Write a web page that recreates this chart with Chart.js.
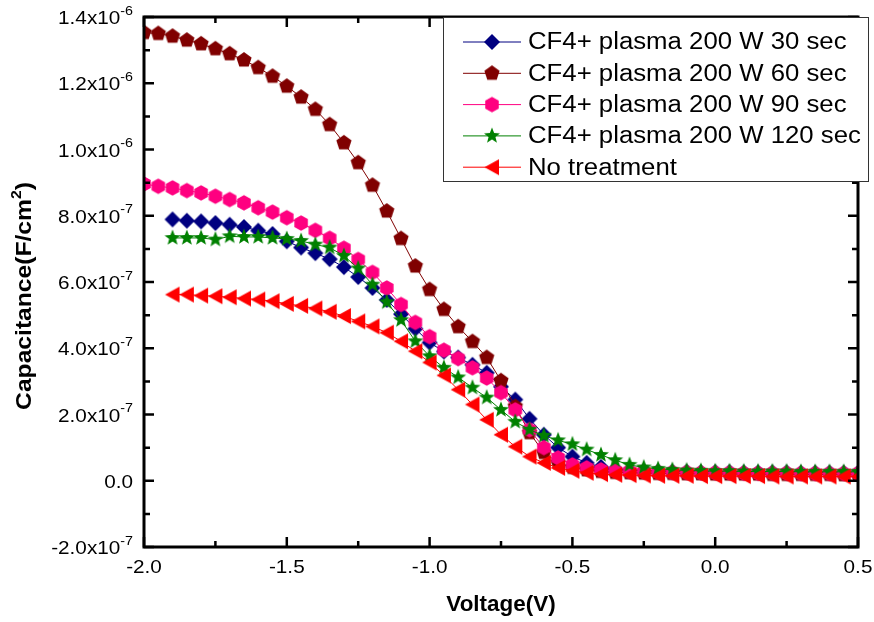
<!DOCTYPE html>
<html>
<head>
<meta charset="utf-8">
<script src="https://cdn.jsdelivr.net/npm/chart.js@4"></script>
<style>
  html, body { margin: 0; padding: 0; background: #fff; }
  #myChart { display: block; }
</style>
</head>
<body>
<canvas id="myChart" width="874" height="622"></canvas>
<script>
// voltage sweep (V)
const volts = [
  -2.00, -1.95, -1.90, -1.85, -1.80, -1.75, -1.70, -1.65, -1.60, -1.55,
  -1.50, -1.45, -1.40, -1.35, -1.30, -1.25, -1.20, -1.15, -1.10, -1.05,
  -1.00, -0.95, -0.90, -0.85, -0.80, -0.75, -0.70, -0.65, -0.60, -0.55,
  -0.50, -0.45, -0.40, -0.35, -0.30, -0.25, -0.20, -0.15, -0.10, -0.05,
  0.00, 0.05, 0.10, 0.15, 0.20, 0.25, 0.30, 0.35, 0.40, 0.45, 0.50
];

// capacitance in units of 1e-7 F/cm2; short series start at -1.90 V
const sec30 = [
  7.89, 7.85, 7.83, 7.78, 7.73, 7.66, 7.55, 7.45,
  7.23, 7.04, 6.87, 6.69, 6.45, 6.15, 5.82, 5.46, 5.03, 4.59,
  4.17, 3.90, 3.72, 3.50, 3.26, 2.84, 2.45, 1.87, 1.39, 1.00,
  0.73, 0.54, 0.42, 0.35, 0.31, 0.29,
  0.28, 0.27, 0.27, 0.26, 0.26, 0.26, 0.25, 0.25, 0.25, 0.25, 0.24, 0.24, 0.24, 0.24, 0.24
];
const sec60 = [
  13.53, 13.50, 13.42, 13.30, 13.19, 13.04, 12.89, 12.70, 12.47, 12.21,
  11.91, 11.58, 11.21, 10.75, 10.20, 9.60, 8.92, 8.14, 7.31, 6.48,
  5.77, 5.17, 4.65, 4.20, 3.72, 3.02, 2.24, 1.45, 0.85, 0.55,
  0.40, 0.33, 0.28, 0.25, 0.24,
  0.23, 0.22, 0.22, 0.21, 0.21, 0.20, 0.20, 0.20, 0.20, 0.19, 0.19, 0.19, 0.19, 0.19, 0.18, 0.18
];
const sec90 = [
  8.96, 8.89, 8.84, 8.76, 8.69, 8.59, 8.49, 8.39, 8.24, 8.11,
  7.94, 7.78, 7.56, 7.32, 7.02, 6.68, 6.29, 5.82, 5.32, 4.78,
  4.35, 3.94, 3.69, 3.41, 3.10, 2.66, 2.14, 1.54, 1.00, 0.69,
  0.48, 0.39, 0.33, 0.30, 0.28, 0.27,
  0.26, 0.25, 0.25, 0.24, 0.24, 0.24, 0.23, 0.23, 0.23, 0.23, 0.22, 0.22, 0.22, 0.22, 0.22
];
const sec120 = [
  7.33, 7.33, 7.33, 7.28, 7.38, 7.36, 7.36, 7.33,
  7.30, 7.24, 7.13, 7.04, 6.79, 6.41, 5.92, 5.39, 4.85, 4.21,
  3.76, 3.41, 3.12, 2.81, 2.51, 2.14, 1.78, 1.54, 1.36, 1.22,
  1.10, 0.94, 0.78, 0.62, 0.48, 0.40,
  0.36, 0.33, 0.31, 0.30, 0.29, 0.29, 0.28, 0.28, 0.28, 0.28, 0.27, 0.27, 0.27, 0.27, 0.27
];
const noTreat = [
  5.62, 5.62, 5.59, 5.57, 5.54, 5.50, 5.47, 5.42,
  5.34, 5.28, 5.20, 5.10, 4.97, 4.81, 4.66, 4.47, 4.21, 3.91,
  3.57, 3.18, 2.75, 2.30, 1.84, 1.39, 1.03, 0.73, 0.54, 0.39,
  0.30, 0.24, 0.20, 0.18, 0.17, 0.16,
  0.15, 0.15, 0.15, 0.14, 0.14, 0.14, 0.14, 0.14, 0.13, 0.13, 0.13, 0.13, 0.13, 0.13, 0.13
];

const seriesNames = [
  'CF4+ plasma 200 W 30 sec',
  'CF4+ plasma 200 W 60 sec',
  'CF4+ plasma 200 W 90 sec',
  'CF4+ plasma 200 W 120 sec',
  'No treatment'
];
const xTickLabels = ['-2.0', '-1.5', '-1.0', '-0.5', '0.0', '0.5'];
const yTickLabels = ['-2.0x10^-7', '0.0', '2.0x10^-7', '4.0x10^-7', '6.0x10^-7',
  '8.0x10^-7', '1.0x10^-6', '1.2x10^-6', '1.4x10^-6'];

const UNIT = 1e-7;
const FONT = "'Liberation Sans', Arial, sans-serif";
const colors = ['#000080', '#800000', '#ff0080', '#008000', '#ff0000'];
const shapes = ['diamond', 'pentagon', 'hexagon', 'star', 'triLeft'];

function makeMarker(shape, color) {
  const s = 20, c = document.createElement('canvas');
  c.width = s; c.height = s;
  const g = c.getContext('2d');
  g.fillStyle = color;
  g.translate(s / 2, s / 2);
  g.beginPath();
  const poly = (n, r, rot) => {
    for (let k = 0; k < n; k++) {
      const t = rot + k * 2 * Math.PI / n;
      g.lineTo(r * Math.cos(t), r * Math.sin(t));
    }
  };
  if (shape === 'diamond') poly(4, 8, -Math.PI / 2);
  else if (shape === 'pentagon') poly(5, 8, -Math.PI / 2);
  else if (shape === 'hexagon') poly(6, 7.8, -Math.PI / 2);
  else if (shape === 'star') {
    for (let k = 0; k < 10; k++) {
      const r = k % 2 ? 3.6 : 8.4;
      const t = -Math.PI / 2 + k * Math.PI / 5;
      g.lineTo(r * Math.cos(t), r * Math.sin(t));
    }
  } else {
    g.moveTo(-7.5, 0); g.lineTo(7, -8); g.lineTo(7, 8);
  }
  g.closePath();
  g.fill();
  return c;
}
const markers = shapes.map((s, i) => makeMarker(s, colors[i]));

function toPoints(vals) {
  const off = volts.length - vals.length;
  return vals.map((v, i) => ({x: volts[i + off], y: v * UNIT}));
}
const allSeries = [sec30, sec60, sec90, sec120, noTreat];

function drawText(ctx, str, x, y, font, align, sx) {
  ctx.save();
  ctx.font = font;
  ctx.textBaseline = 'middle';
  ctx.textAlign = align;
  ctx.fillStyle = '#000';
  ctx.translate(x, y);
  ctx.scale(sx, 1);
  ctx.fillText(str, 0, 0);
  ctx.restore();
}
function textWidth(ctx, str, font, sx) {
  ctx.save();
  ctx.font = font;
  const w = ctx.measureText(str).width * sx;
  ctx.restore();
  return w;
}

const framePlugin = {
  id: 'frame',
  afterDraw(chart) {
    const {ctx, chartArea: a, scales: {x, y}} = chart;
    ctx.save();
    ctx.strokeStyle = '#000';
    ctx.lineWidth = 3;
    ctx.strokeRect(a.left, a.top, a.right - a.left, a.bottom - a.top);

    // inward ticks on all four sides
    ctx.lineWidth = 2.5;
    const tickX = (px, len) => {
      ctx.beginPath();
      ctx.moveTo(px, a.bottom); ctx.lineTo(px, a.bottom - len);
      ctx.moveTo(px, a.top); ctx.lineTo(px, a.top + len);
      ctx.stroke();
    };
    const tickY = (py, len) => {
      ctx.beginPath();
      ctx.moveTo(a.left, py); ctx.lineTo(a.left + len, py);
      ctx.moveTo(a.right, py); ctx.lineTo(a.right - len, py);
      ctx.stroke();
    };
    const xVals = xTickLabels.map(Number);
    xVals.forEach((v, i) => {
      tickX(x.getPixelForValue(v), 10);
      if (i > 0) tickX(x.getPixelForValue((v + xVals[i - 1]) / 2), 6);
      drawText(ctx, xTickLabels[i], x.getPixelForValue(v), 568, '18.5px ' + FONT, 'center', 1.12);
    });

    const yVals = yTickLabels.map(l => {
      const p = l.split('^');
      return p.length > 1 ? parseFloat(p[0]) * Math.pow(10, Number(p[1])) : parseFloat(p[0]);
    });
    yVals.forEach((v, i) => {
      const py = y.getPixelForValue(v);
      tickY(py, 10);
      if (i > 0) tickY(y.getPixelForValue((v + yVals[i - 1]) / 2), 6);
      const p = yTickLabels[i].split('^');
      let right = 133;
      if (p.length > 1) {
        const ef = '13px ' + FONT;
        const ew = textWidth(ctx, p[1], ef, 1.1);
        drawText(ctx, p[1], right - ew, py - 6, ef, 'left', 1.1);
        right -= ew;
      }
      drawText(ctx, p[0], right, py + 2, '18.5px ' + FONT, 'right', 1.12);
    });

    // axis titles
    drawText(ctx, 'Voltage(V)', (a.left + a.right) / 2, 605, 'bold 22px ' + FONT, 'center', 1.02);
    ctx.save();
    ctx.translate(25, 296);
    ctx.rotate(-Math.PI / 2);
    const tf = 'bold 22px ' + FONT, sf = 'bold 14px ' + FONT;
    const parts = [['Capacitance(F/cm', tf, 0], ['2', sf, -8], [')', tf, 0]];
    const widths = parts.map(p => textWidth(ctx, p[0], p[1], 1.12));
    let tx = -widths.reduce((s, w) => s + w, 0) / 2;
    parts.forEach((p, k) => {
      drawText(ctx, p[0], tx, p[2], p[1], 'left', 1.12);
      tx += widths[k];
    });
    ctx.restore();

    // legend box
    ctx.fillStyle = '#fff';
    ctx.fillRect(443, 17, 426, 165);
    ctx.lineWidth = 1;
    ctx.strokeStyle = '#333';
    ctx.strokeRect(443.5, 17.5, 425, 164);
    seriesNames.forEach((name, i) => {
      const ly = 42 + i * 31.3;
      ctx.strokeStyle = colors[i];
      ctx.lineWidth = 1;
      ctx.beginPath();
      ctx.moveTo(463, ly); ctx.lineTo(521, ly);
      ctx.stroke();
      const m = markers[i];
      ctx.drawImage(m, 492 - m.width / 2, ly - m.height / 2);
      drawText(ctx, name, 528, ly + 1, '23px ' + FONT, 'left', 1.12);
    });
    ctx.restore();
  }
};

new Chart(document.getElementById('myChart'), {
  type: 'line',
  data: {
    datasets: allSeries.map((vals, i) => ({
      label: seriesNames[i],
      data: toPoints(vals),
      borderColor: colors[i],
      backgroundColor: colors[i],
      borderWidth: 1,
      pointStyle: markers[i],
      pointRadius: 8,
      tension: 0,
      fill: false,
      order: 5 - i
    }))
  },
  options: {
    responsive: false,
    animation: false,
    events: [],
    layout: {padding: {left: 144, right: 16, top: 17, bottom: 75}},
    scales: {
      x: {type: 'linear', min: -2.0, max: 0.5, display: false},
      y: {type: 'linear', min: -2e-7, max: 1.4e-6, display: false}
    },
    plugins: {
      legend: {display: false},
      tooltip: {enabled: false}
    }
  },
  plugins: [framePlugin]
});
</script>
</body>
</html>
